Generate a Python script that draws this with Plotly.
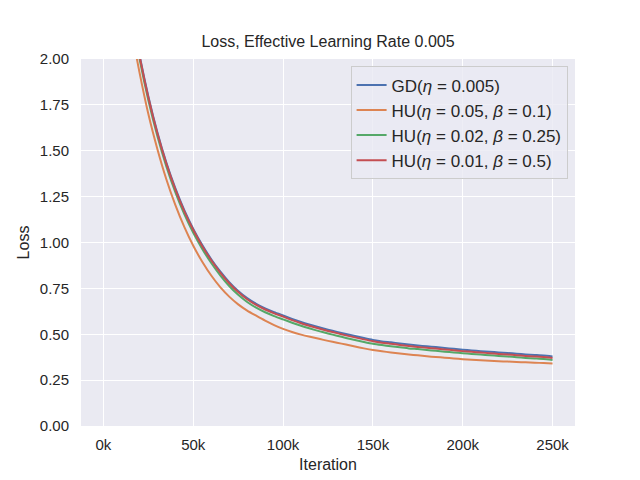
import plotly.graph_objects as go

# iterations, in thousands
iters_k = list(range(10, 255, 5))

loss_gd = [2.606, 2.296, 2.026, 1.796, 1.601, 1.436, 1.296, 1.176, 1.074, 0.986,
           0.909, 0.842, 0.784, 0.736, 0.697, 0.666, 0.641, 0.620, 0.602, 0.584,
           0.567, 0.552, 0.538, 0.525, 0.513, 0.501, 0.490, 0.479, 0.469, 0.461,
           0.456, 0.450, 0.444, 0.439, 0.434, 0.430, 0.425, 0.421, 0.416, 0.412,
           0.408, 0.405, 0.401, 0.398, 0.394, 0.390, 0.387, 0.384, 0.379]
loss_hu1 = [2.50, 2.19, 1.93, 1.70, 1.51, 1.345, 1.205, 1.085, 0.982, 0.895,
            0.820, 0.757, 0.705, 0.663, 0.629, 0.601, 0.574, 0.550, 0.529, 0.512,
            0.498, 0.486, 0.475, 0.464, 0.454, 0.444, 0.433, 0.423, 0.414, 0.407,
            0.401, 0.395, 0.390, 0.385, 0.380, 0.376, 0.372, 0.368, 0.364, 0.361,
            0.358, 0.355, 0.353, 0.351, 0.349, 0.347, 0.345, 0.343, 0.341]
loss_hu2 = [2.585, 2.275, 2.005, 1.775, 1.58, 1.415, 1.275, 1.155, 1.053, 0.965,
            0.888, 0.821, 0.763, 0.715, 0.676, 0.645, 0.620, 0.599, 0.581, 0.563,
            0.546, 0.531, 0.517, 0.504, 0.492, 0.480, 0.469, 0.458, 0.448, 0.441,
            0.435, 0.429, 0.423, 0.419, 0.414, 0.410, 0.405, 0.401, 0.397, 0.393,
            0.389, 0.386, 0.382, 0.379, 0.375, 0.371, 0.368, 0.365, 0.360]
loss_hu3 = [2.60, 2.29, 2.02, 1.79, 1.595, 1.43, 1.29, 1.17, 1.068, 0.980,
            0.903, 0.836, 0.778, 0.730, 0.691, 0.660, 0.635, 0.614, 0.596, 0.577,
            0.560, 0.545, 0.531, 0.518, 0.506, 0.494, 0.483, 0.472, 0.462, 0.454,
            0.448, 0.442, 0.436, 0.431, 0.426, 0.422, 0.417, 0.413, 0.408, 0.404,
            0.400, 0.397, 0.393, 0.390, 0.386, 0.382, 0.379, 0.376, 0.371]

names = ["GD(<i>η</i> = 0.005)",
         "HU(<i>η</i> = 0.05, <i>β</i> = 0.1)",
         "HU(<i>η</i> = 0.02, <i>β</i> = 0.25)",
         "HU(<i>η</i> = 0.01, <i>β</i> = 0.5)"]
colors = ["#4C72B0", "#DD8452", "#55A868", "#C44E52"]

xtick_vals = [0, 50000, 100000, 150000, 200000, 250000]
xtick_text = ["0k", "50k", "100k", "150k", "200k", "250k"]
ytick_vals = [0, 0.25, 0.5, 0.75, 1.0, 1.25, 1.5, 1.75, 2.0]

x = [k * 1000 for k in iters_k]

fig = go.Figure()
for name, ys, c in zip(names, [loss_gd, loss_hu1, loss_hu2, loss_hu3], colors):
    fig.add_trace(go.Scatter(x=x, y=ys, mode="lines", name=name,
                             line=dict(color=c, width=2, shape="spline", smoothing=0.6)))

# page body has an 8px margin, so the figure is 8px smaller and margins shifted
fig.update_layout(
    width=632, height=472,
    margin=dict(l=73, r=65, t=51, b=54),
    paper_bgcolor="white",
    plot_bgcolor="#EAEAF2",
    font=dict(family="Liberation Sans, Arial, sans-serif", size=15, color="#262626"),
    title=dict(text="Loss, Effective Learning Rate 0.005", x=0.5, xanchor="center",
               xref="paper", y=1 - 33 / 472, yanchor="middle",
               font=dict(size=16, color="#262626")),
    legend=dict(x=0.985, y=0.98, xanchor="right", yanchor="top",
                bgcolor="rgba(234,234,242,0.8)", bordercolor="#CCCCCC", borderwidth=1,
                font=dict(size=17), tracegroupgap=0),
    showlegend=True,
)
fig.update_xaxes(range=[-12500, 262500], tickvals=xtick_vals, ticktext=xtick_text,
                 showgrid=True, gridcolor="white", gridwidth=1.3, zeroline=False,
                 showline=False, ticks="outside", ticklen=5, tickcolor="rgba(0,0,0,0)",
                 automargin=False,
                 title=dict(text="Iteration", font=dict(size=16), standoff=6))
fig.update_yaxes(range=[0, 2.0], tickvals=ytick_vals, tickformat=".2f",
                 showgrid=True, gridcolor="white", gridwidth=1.3, zeroline=False,
                 showline=False, ticks="outside", ticklen=8, tickcolor="rgba(0,0,0,0)",
                 automargin=False,
                 title=dict(text="Loss", font=dict(size=16), standoff=6))

fig.write_html("out.html")
